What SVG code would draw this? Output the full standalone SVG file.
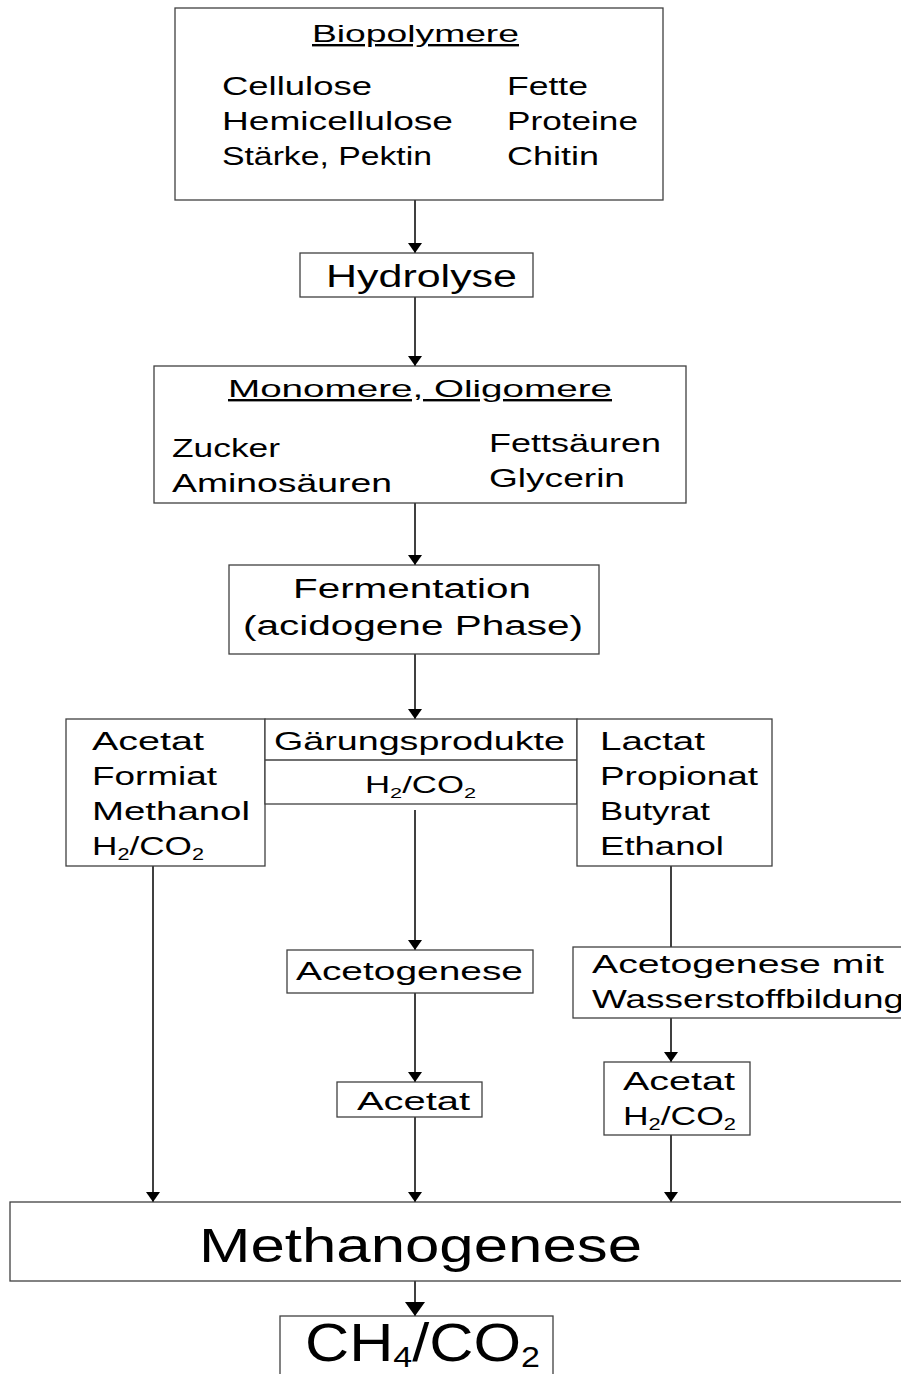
<svg xmlns="http://www.w3.org/2000/svg" width="901" height="1374" viewBox="0 0 901 1374">
<style>
text{font-family:"Liberation Sans","DejaVu Sans",sans-serif;fill:#000;}
.b{fill:#fff;stroke:#404040;stroke-width:1.3;}
.c{stroke:#000;stroke-width:1.5;fill:none;}
.t{font-size:26px;}
.h{font-size:24px;}
.u{text-decoration:underline;}
</style>
<defs>
<marker id="ah" markerWidth="10" markerHeight="14" refX="10" refY="7" orient="auto" markerUnits="userSpaceOnUse" viewBox="0 0 10 14">
<path d="M0,0 L10,7 L0,14 z" fill="#000"/>
</marker>
<marker id="ah2" markerWidth="14" markerHeight="20" refX="14" refY="10" orient="auto" markerUnits="userSpaceOnUse" viewBox="0 0 14 20">
<path d="M0,0 L14,10 L0,20 z" fill="#000"/>
</marker>
</defs>
<rect width="901" height="1374" fill="#fff"/>

<g id="connectors">
<line class="c" x1="415" y1="200" x2="415" y2="253" marker-end="url(#ah)"/>
<line class="c" x1="415" y1="297" x2="415" y2="366" marker-end="url(#ah)"/>
<line class="c" x1="415" y1="503" x2="415" y2="565" marker-end="url(#ah)"/>
<line class="c" x1="415" y1="654" x2="415" y2="719" marker-end="url(#ah)"/>
<line class="c" x1="415" y1="810" x2="415" y2="950" marker-end="url(#ah)"/>
<line class="c" x1="415" y1="993" x2="415" y2="1082" marker-end="url(#ah)"/>
<line class="c" x1="415" y1="1117" x2="415" y2="1202" marker-end="url(#ah)"/>
<line class="c" x1="153" y1="866" x2="153" y2="1202" marker-end="url(#ah)"/>
<line class="c" x1="671" y1="866" x2="671" y2="947"/>
<line class="c" x1="671" y1="1018" x2="671" y2="1062" marker-end="url(#ah)"/>
<line class="c" x1="671" y1="1135" x2="671" y2="1202" marker-end="url(#ah)"/>
<line class="c" x1="415" y1="1281" x2="415" y2="1316" stroke-width="3" marker-end="url(#ah2)"/>
</g>

<g id="biopolymere">
<rect class="b" x="175" y="8" width="488" height="192"/>
<text class="h u" x="312" y="42" textLength="207" lengthAdjust="spacingAndGlyphs">Biopolymere</text>
<text class="t" x="222" y="95" textLength="150" lengthAdjust="spacingAndGlyphs">Cellulose</text>
<text class="t" x="222" y="130" textLength="231" lengthAdjust="spacingAndGlyphs">Hemicellulose</text>
<text class="t" x="222" y="165" textLength="210" lengthAdjust="spacingAndGlyphs">Stärke, Pektin</text>
<text class="t" x="507" y="95" textLength="81" lengthAdjust="spacingAndGlyphs">Fette</text>
<text class="t" x="507" y="130" textLength="131" lengthAdjust="spacingAndGlyphs">Proteine</text>
<text class="t" x="507" y="165" textLength="92" lengthAdjust="spacingAndGlyphs">Chitin</text>
</g>

<g id="hydrolyse">
<rect class="b" x="300" y="253" width="233" height="44"/>
<text x="326" y="287" font-size="31" textLength="191" lengthAdjust="spacingAndGlyphs">Hydrolyse</text>
</g>

<g id="monomere">
<rect class="b" x="154" y="366" width="532" height="137"/>
<text class="h u" x="228" y="397" textLength="384" lengthAdjust="spacingAndGlyphs">Monomere, Oligomere</text>
<text class="t" x="172" y="457" textLength="108" lengthAdjust="spacingAndGlyphs">Zucker</text>
<text class="t" x="172" y="492" textLength="220" lengthAdjust="spacingAndGlyphs">Aminosäuren</text>
<text class="t" x="489" y="452" textLength="172" lengthAdjust="spacingAndGlyphs">Fettsäuren</text>
<text class="t" x="489" y="487" textLength="136" lengthAdjust="spacingAndGlyphs">Glycerin</text>
</g>

<g id="fermentation">
<rect class="b" x="229" y="565" width="370" height="89"/>
<text x="293" y="598" font-size="27" textLength="238" lengthAdjust="spacingAndGlyphs">Fermentation</text>
<text x="243" y="635" font-size="27" textLength="340" lengthAdjust="spacingAndGlyphs">(acidogene Phase)</text>
</g>

<g id="links">
<rect class="b" x="66" y="719" width="199" height="147"/>
<text class="t" x="92" y="750" textLength="112" lengthAdjust="spacingAndGlyphs">Acetat</text>
<text class="t" x="92" y="785" textLength="125" lengthAdjust="spacingAndGlyphs">Formiat</text>
<text class="t" x="92" y="820" textLength="158" lengthAdjust="spacingAndGlyphs">Methanol</text>
<text class="t" x="92" y="855" textLength="112" lengthAdjust="spacingAndGlyphs">H<tspan font-size="16" dy="5">2</tspan><tspan dy="-5">/CO</tspan><tspan font-size="16" dy="5">2</tspan></text>
</g>

<g id="gaerungsprodukte">
<rect class="b" x="265" y="719" width="312" height="85"/>
<line class="b" x1="265" y1="760" x2="577" y2="760"/>
<text x="274" y="750" font-size="25" textLength="291" lengthAdjust="spacingAndGlyphs">Gärungsprodukte</text>
<text x="365" y="793" font-size="24" textLength="111" lengthAdjust="spacingAndGlyphs">H<tspan font-size="15" dy="5">2</tspan><tspan dy="-5">/CO</tspan><tspan font-size="15" dy="5">2</tspan></text>
</g>

<g id="rechts">
<rect class="b" x="577" y="719" width="195" height="147"/>
<text class="t" x="600" y="750" textLength="105" lengthAdjust="spacingAndGlyphs">Lactat</text>
<text class="t" x="600" y="785" textLength="158" lengthAdjust="spacingAndGlyphs">Propionat</text>
<text class="t" x="600" y="820" textLength="110" lengthAdjust="spacingAndGlyphs">Butyrat</text>
<text class="t" x="600" y="855" textLength="124" lengthAdjust="spacingAndGlyphs">Ethanol</text>
</g>

<g id="acetogenese">
<rect class="b" x="287" y="950" width="246" height="43"/>
<text class="t" x="296" y="980" textLength="227" lengthAdjust="spacingAndGlyphs">Acetogenese</text>
</g>

<g id="acetat-mitte">
<rect class="b" x="337" y="1082" width="145" height="35"/>
<text class="t" x="357" y="1110" textLength="113" lengthAdjust="spacingAndGlyphs">Acetat</text>
</g>

<g id="acetogenese-h2">
<rect class="b" x="573" y="947" width="340" height="71"/>
<text class="t" x="592" y="973" textLength="292" lengthAdjust="spacingAndGlyphs">Acetogenese mit</text>
<text class="t" x="592" y="1008" textLength="312" lengthAdjust="spacingAndGlyphs">Wasserstoffbildung</text>
</g>

<g id="acetat-rechts">
<rect class="b" x="604" y="1062" width="146" height="73"/>
<text class="t" x="623" y="1090" textLength="112" lengthAdjust="spacingAndGlyphs">Acetat</text>
<text class="t" x="623" y="1125" textLength="113" lengthAdjust="spacingAndGlyphs">H<tspan font-size="16" dy="5">2</tspan><tspan dy="-5">/CO</tspan><tspan font-size="16" dy="5">2</tspan></text>
</g>

<g id="methanogenese">
<rect class="b" x="10" y="1202" width="900" height="79"/>
<text x="199" y="1262" font-size="48" textLength="443" lengthAdjust="spacingAndGlyphs">Methanogenese</text>
</g>

<g id="ch4">
<rect class="b" x="280" y="1316" width="273" height="70"/>
<text x="305" y="1361" font-size="54" textLength="235" lengthAdjust="spacingAndGlyphs">CH<tspan font-size="30" dy="6">4</tspan><tspan dy="-6">/CO</tspan><tspan font-size="30" dy="6">2</tspan></text>
</g>
</svg>
